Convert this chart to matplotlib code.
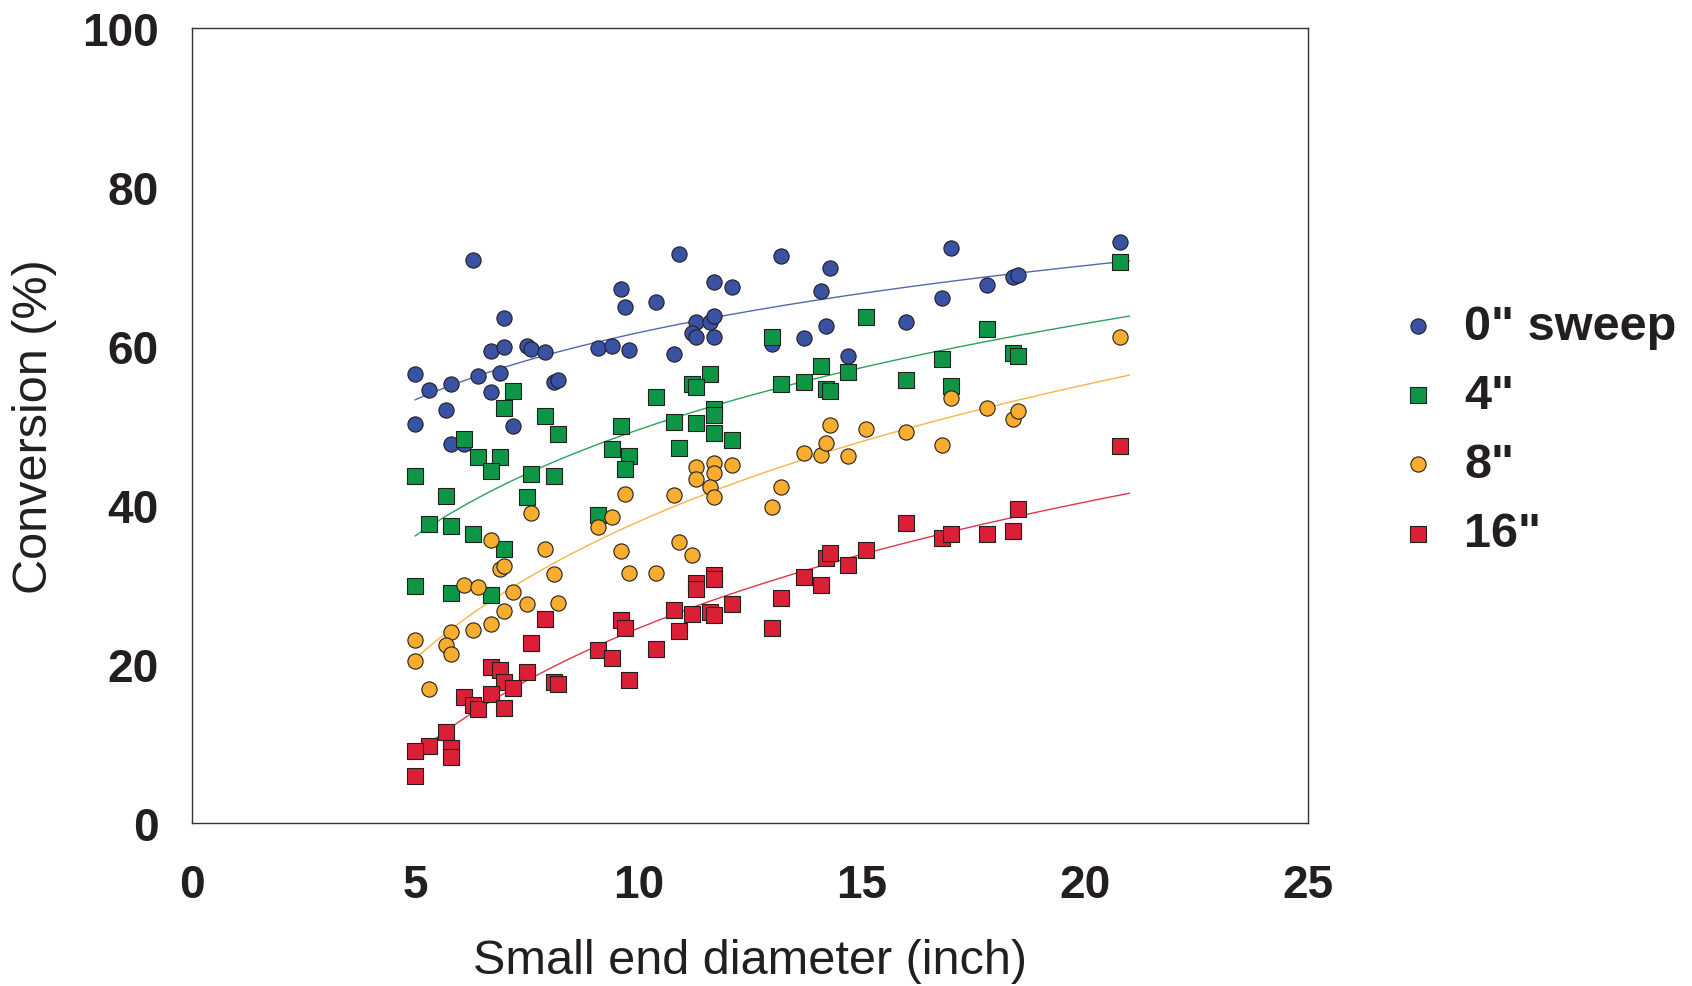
import numpy as np
import matplotlib.pyplot as plt

# Conversion vs small end diameter, one series per sweep
x_0 = [6.3, 10.9, 13.2, 9.6, 9.7, 10.4, 11.7, 12.1, 7.0, 11.3, 11.6, 11.7, 11.2, 11.3, 11.7,
       6.7, 7.0, 7.5, 7.6, 7.9, 9.1, 9.4, 9.8, 10.8, 13.0, 5.0, 5.3, 5.8, 6.4, 6.9, 6.7, 8.1,
       8.2, 5.7, 5.0, 7.2, 5.8, 6.1, 14.3, 14.1, 17.0, 16.8, 17.8, 18.4, 18.5, 20.8, 14.2,
       13.7, 16.0, 14.7]
y_0 = [70.8, 71.6, 71.4, 67.2, 64.9, 65.6, 68.1, 67.4, 63.5, 63.0, 63.0, 63.8, 61.7, 61.1, 61.2,
       59.4, 59.9, 60.0, 59.6, 59.3, 59.8, 60.0, 59.5, 59.0, 60.3, 56.5, 54.5, 55.3, 56.2, 56.6,
       54.2, 55.5, 55.8, 52.0, 50.2, 49.9, 47.7, 47.7, 69.8, 67.0, 72.3, 66.1, 67.7, 68.7, 69.0,
       73.1, 62.6, 61.0, 63.0, 58.8]

x_4 = [20.8, 13.0, 15.1, 17.8, 11.6, 11.2, 11.3, 10.4, 7.2, 7.0, 7.9, 8.2, 9.6, 10.8, 11.3,
       11.7, 11.7, 11.7, 12.1, 10.9, 9.4, 9.8, 9.7, 6.1, 6.4, 6.9, 6.7, 7.6, 8.1, 5.0, 5.7,
       7.5, 5.3, 5.8, 6.3, 7.0, 9.1, 5.0, 5.8, 6.7, 14.1, 14.7, 13.2, 13.7, 14.2, 14.3, 16.0,
       16.8, 17.0, 18.4, 18.5]
y_4 = [70.6, 61.1, 63.7, 62.1, 56.5, 55.3, 54.8, 53.6, 54.3, 52.2, 51.2, 48.9, 49.9, 50.5, 50.3,
       52.1, 51.3, 49.1, 48.2, 47.2, 47.0, 46.2, 44.5, 48.3, 46.0, 46.1, 44.3, 43.9, 43.6, 43.6,
       41.1, 41.0, 37.6, 37.4, 36.4, 34.5, 38.8, 29.8, 28.9, 28.7, 57.5, 56.7, 55.3, 55.5, 54.6,
       54.4, 55.8, 58.4, 55.0, 59.2, 58.8]

x_8 = [11.3, 11.7, 12.1, 11.3, 11.7, 11.6, 11.7, 9.7, 10.8, 13.0, 13.2, 7.6, 9.4, 9.1, 6.7,
       7.9, 9.6, 10.9, 11.2, 6.9, 7.0, 8.1, 9.8, 10.4, 6.1, 6.4, 7.2, 7.5, 8.2, 7.0, 6.7, 6.3,
       5.8, 5.0, 5.7, 5.8, 5.0, 5.3, 20.8, 17.0, 17.8, 18.4, 18.5, 14.3, 15.1, 16.0, 16.8,
       13.7, 14.1, 14.2, 14.7]
y_8 = [44.8, 45.3, 45.1, 43.3, 44.1, 42.3, 41.0, 41.4, 41.3, 39.7, 42.3, 39.0, 38.5, 37.2, 35.6,
       34.5, 34.2, 35.4, 33.7, 31.9, 32.3, 31.3, 31.5, 31.5, 30.0, 29.7, 29.1, 27.5, 27.7, 26.7,
       25.0, 24.3, 24.0, 23.0, 22.4, 21.3, 20.4, 16.9, 61.2, 53.5, 52.2, 50.8, 51.9, 50.1, 49.6,
       49.2, 47.6, 46.6, 46.3, 47.8, 46.2]

x_16 = [11.3, 11.3, 11.7, 11.7, 12.1, 10.8, 11.2, 11.6, 11.7, 13.0, 13.2, 10.9, 10.4, 9.6, 9.7,
        9.1, 9.4, 9.8, 7.9, 7.6, 7.5, 8.1, 8.2, 6.7, 6.9, 7.0, 7.2, 6.1, 6.3, 6.4, 6.7, 7.0,
        5.7, 5.3, 5.0, 5.8, 5.8, 5.0, 20.8, 18.5, 18.4, 17.8, 16.8, 17.0, 16.0, 15.1, 14.7,
        14.2, 14.3, 13.7, 14.1]
y_16 = [30.2, 29.5, 31.2, 30.7, 27.6, 26.8, 26.3, 26.5, 26.2, 24.5, 28.3, 24.2, 21.9, 25.5, 24.5,
        21.8, 20.8, 18.0, 25.7, 22.7, 19.0, 17.8, 17.5, 19.6, 19.3, 17.8, 17.0, 15.9, 14.8, 14.4,
        16.2, 14.5, 11.4, 9.7, 9.0, 9.4, 8.3, 5.9, 47.4, 39.5, 36.7, 36.3, 35.9, 36.4, 37.7,
        34.3, 32.5, 33.4, 34.0, 31.0, 29.9]

labels = ['0" sweep', '4"', '8"', '16"']
colors = ['#3a52a3', '#0e9647', '#f9ad2f', '#da1f36']
line_colors = ['#5568b0', '#2aa25c', '#f9b445', '#e0374c']
markers = ['o', 's', 'o', 's']

series = [(x_0, y_0), (x_4, y_4), (x_8, y_8), (x_16, y_16)]

plt.rcParams['font.family'] = ['Liberation Sans', 'DejaVu Sans']
ink = '#231f20'

fig = plt.figure(figsize=(16.92, 9.87), dpi=100)
ax = fig.add_axes([0.1135, 0.1652, 0.6595, 0.8051])

xfit = np.linspace(5, 21, 200)
for i, (xs, ys) in enumerate(series):
    xs = np.array(xs)
    ys = np.array(ys)
    # logarithmic trend line through each series
    b, a = np.polyfit(np.log(xs), ys, 1)
    ax.plot(xfit, a + b * np.log(xfit), color=line_colors[i], lw=1.0, zorder=2)
    ax.scatter(xs, ys, s=120, marker=markers[i], facecolor=colors[i],
               edgecolor=ink, linewidth=0.8, label=labels[i], zorder=3 + i)

ax.set_xlim(0, 25)
ax.set_ylim(0, 100)
ax.set_xticks([0, 5, 10, 15, 20, 25])
ax.set_yticks([0, 20, 40, 60, 80, 100])
ax.tick_params(length=0, labelsize=33, colors=ink)
ax.tick_params(axis='x', pad=29)
ax.tick_params(axis='y', pad=24)
for lab in ax.get_xticklabels() + ax.get_yticklabels():
    lab.set_fontweight('bold')
for sp in ax.spines.values():
    sp.set_color('#333333')
    sp.set_linewidth(1.0)

ax.set_xlabel('Small end diameter (inch)', fontsize=35, color=ink, labelpad=22)
ax.set_ylabel('Conversion (%)', fontsize=35, color=ink, labelpad=18)

fig.legend(loc='center left', bbox_to_anchor=(1394 / 1692, 1 - 431 / 987),
           frameon=False, prop={'weight': 'bold', 'size': 35},
           handlelength=1.0, handletextpad=0.45, labelspacing=0.5,
           borderpad=0, borderaxespad=0, scatterpoints=1, labelcolor=ink)

fig.savefig('out.png', dpi=100)
plt.close(fig)
